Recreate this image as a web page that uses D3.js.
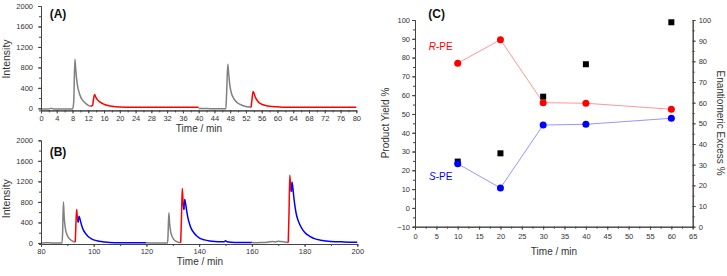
<!DOCTYPE html>
<html lang="en">
<head>
<meta charset="utf-8"/>
<title>HPLC traces and product yield</title>
<script src="https://cdnjs.cloudflare.com/ajax/libs/d3/7.8.5/d3.min.js"></script>
<style>
	body { margin: 0; background: #fff; }
	svg text { font-family: "Liberation Sans", Arial, sans-serif; fill: #333; }
	.axis path, .axis line { stroke: #444; stroke-width: 1; }
	.axis text { font-size: 7.5px; fill: #333; }
</style>
</head>
<body>
<svg id="fig" width="727" height="276"></svg>
<script>
// ---- panel A traces [time, intensity] ----
var aGray1 = [[0,-15],[1,-15],[2,-12],[2.6,0],[3.2,-12],[4,-15],[6,-15],[8,-15],[8.3,120],[8.6,960],[8.8,780],[9.0,600],[9.3,430],[9.7,300],[10.2,200],[11,120],[12,60],[12.6,40]];
var aRed1 = [[12.6,40],[13.1,60],[13.3,170],[13.6,270],[13.9,220],[14.3,170],[15,120],[16,80],[17,55],[18,40],[20,28],[25,22],[30,20],[40,20]];
var aGray2 = [[40,-5],[42,-5],[44,-10],[46,-10],[46.9,-10],[47.1,300],[47.4,860],[47.6,700],[47.9,460],[48.3,300],[49,180],[50,100],[51,60],[52,35],[53,25],[53.3,20]];
var aRed2 = [[53.3,20],[53.5,150],[53.8,330],[54.1,280],[54.5,200],[55,140],[56,80],[57,55],[58,40],[60,30],[62,22],[65,20],[80,20]];

// ---- panel B traces ----
var bGray1 = [[80,0],[82,5],[84,0],[86,0],[88,0],[88.2,200],[88.5,800],[88.8,500],[89.2,300],[89.8,170],[90.5,100],[91.5,50],[92.5,25],[93,20]];
var bRed1 = [[93,20],[93.2,300],[93.5,650],[93.8,500],[94.1,400]];
var bBlue1 = [[94.1,400],[94.4,520],[94.7,480],[95,420],[95.5,330],[96,260],[97,180],[98,120],[99,85],[100,60],[102,35],[104,20],[106,10],[110,5],[120,5]];
var bGray2 = [[120,5],[122,0],[124,0],[126,0],[128,0],[128.2,150],[128.5,590],[128.8,380],[129.2,220],[129.8,120],[130.5,60],[131.5,25],[132.5,10],[133,5]];
var bRed2 = [[133,5],[133.3,500],[133.6,1060],[133.9,800],[134.2,650]];
var bBlue2 = [[134.2,650],[134.5,850],[134.8,780],[135.2,650],[135.7,500],[136.3,380],[137,280],[138,200],[139,140],[140,100],[142,60],[144,40],[146,30],[148,25],[149.5,25],[150,45],[150.6,25],[152,15],[155,10],[160,10]];
var bGray3 = [[160,10],[162,5],[164,10],[166,15],[168,30],[169,20],[170,35],[172,25],[173,15],[173.8,10]];
var bRed3 = [[173.8,10],[174.1,600],[174.4,1320],[174.7,1100],[175,1000]];
var bBlue3 = [[175,1000],[175.2,1190],[175.5,1100],[175.9,900],[176.4,700],[177,530],[178,380],[179,280],[180,210],[182,130],[184,80],[186,55],[188,40],[190,30],[195,20],[200,15]];

// ---- panel C ----
var cTime = [10, 20, 30, 40, 60];
var cRPE = [77.0, 89.5, 56.0, 55.7, 52.5];   // product yield %, R
var cSPE = [23.5, 10.6, 44.1, 44.5, 47.7];   // product yield %, S
var cEE = [31.5, 35.5, 62.9, 78.6, 98.9];    // enantiomeric excess %

var aXTicks = d3.range(0, 81, 4);
var bXTicks = d3.range(80, 201, 20);
var intensityTicks = d3.range(0, 2001, 400);
var cXTicks = d3.range(0, 66, 5);
var cYLTicks = d3.range(-10, 101, 10);
var cYRTicks = d3.range(0, 101, 10);

var svg = d3.select("#fig");
var GRAY = "#808080", RED = "#ff0000", BLUE = "#0000ff";

// axis helper: major ticks with labels + minor ticks without
function addAxis(g, axisFn, scale, major, minor, size, pad, transform) {
	var ga = g.append("g").attr("class", "axis").attr("transform", transform);
	ga.call(axisFn(scale).tickValues(minor).tickSize(2).tickFormat(""));
	ga.append("g").call(axisFn(scale).tickValues(major).tickSize(size).tickPadding(pad).tickSizeOuter(0).tickFormat(d3.format("d")));
	ga.selectAll("path").attr("stroke", "#444");
	return ga;
}

function trace(g, x, y, pts, col) {
	var line = d3.line().x(function(d){ return x(d[0]); }).y(function(d){ return y(d[1]); }).curve(d3.curveMonotoneX);
	g.append("path").datum(pts).attr("d", line).attr("fill", "none").attr("stroke", col).attr("stroke-width", 1.5).attr("stroke-linejoin", "round");
}

// ================= Panel A =================
var xA = d3.scaleLinear().domain([0, 80]).range([41, 356.3]);
var yA = d3.scaleLinear().domain([-40, 2000]).range([110.4, 6]);
var gA = svg.append("g");
[[aGray1, GRAY], [aRed1, RED], [aGray2, GRAY], [aRed2, RED]].forEach(function(s){ trace(gA, xA, yA, s[0], s[1]); });
addAxis(gA, d3.axisBottom, xA, aXTicks, d3.range(0, 81, 2), 3, 2, "translate(0," + yA(-40) + ")");
addAxis(gA, d3.axisLeft, yA, intensityTicks, d3.range(0, 2001, 200), 3, 5, "translate(" + xA(0) + ",0)");
gA.append("text").attr("x", 58).attr("y", 17.5).attr("text-anchor", "middle").attr("font-size", 12).attr("font-weight", "bold").style("fill", "#111").text("(A)");
gA.append("text").attr("x", 199).attr("y", 132).attr("text-anchor", "middle").attr("font-size", 10).text("Time / min");
gA.append("text").attr("transform", "translate(9.5,59) rotate(-90)").attr("text-anchor", "middle").attr("font-size", 10.5).text("Intensity");

// ================= Panel B =================
var xB = d3.scaleLinear().domain([80, 200]).range([41, 357.3]);
var yB = d3.scaleLinear().domain([-20, 2000]).range([244, 140.3]);
var gB = svg.append("g");
[[bGray1, GRAY], [bRed1, RED], [bBlue1, BLUE], [bGray2, GRAY], [bRed2, RED], [bBlue2, BLUE], [bGray3, GRAY], [bRed3, RED], [bBlue3, BLUE]]
	.forEach(function(s){ trace(gB, xB, yB, s[0], s[1]); });
addAxis(gB, d3.axisBottom, xB, bXTicks, d3.range(80, 201, 10), 3, 2, "translate(0," + yB(-20) + ")");
addAxis(gB, d3.axisLeft, yB, intensityTicks, d3.range(0, 2001, 200), 3, 5, "translate(" + xB(80) + ",0)");
gB.append("text").attr("x", 58).attr("y", 155.5).attr("text-anchor", "middle").attr("font-size", 12).attr("font-weight", "bold").style("fill", "#111").text("(B)");
gB.append("text").attr("x", 200).attr("y", 264.5).attr("text-anchor", "middle").attr("font-size", 10).text("Time / min");
gB.append("text").attr("transform", "translate(9.5,198.7) rotate(-90)").attr("text-anchor", "middle").attr("font-size", 10.5).text("Intensity");

// ================= Panel C =================
var xC = d3.scaleLinear().domain([0, 65]).range([415, 692.7]);
var yL = d3.scaleLinear().domain([-10, 100]).range([226.7, 20]);
var yR = d3.scaleLinear().domain([0, 100]).range([226.7, 20]);
var gC = svg.append("g");
addAxis(gC, d3.axisBottom, xC, cXTicks, d3.range(0, 66, 2.5), 3, 4, "translate(0," + yL(-10) + ")");
addAxis(gC, d3.axisLeft, yL, cYLTicks, d3.range(-10, 101, 5), 3, 2, "translate(" + xC(0) + ",0)");
addAxis(gC, d3.axisRight, yR, cYRTicks, d3.range(0, 101, 5), 3, 3, "translate(" + xC(65) + ",0)");

var rows = cTime.map(function(t, i){ return {t: t, r: cRPE[i], s: cSPE[i], ee: cEE[i]}; });
var lineR = d3.line().x(function(d){ return xC(d.t); }).y(function(d){ return yL(d.r); });
var lineS = d3.line().x(function(d){ return xC(d.t); }).y(function(d){ return yL(d.s); });
gC.append("path").datum(rows).attr("d", lineR).attr("fill", "none").attr("stroke", "#ff8a8a").attr("stroke-width", 0.9);
gC.append("path").datum(rows).attr("d", lineS).attr("fill", "none").attr("stroke", "#8a8aff").attr("stroke-width", 0.9);

// ee squares (right axis) under the yield circles
gC.selectAll("rect.ee").data(rows).enter().append("rect").attr("class", "ee")
	.attr("x", function(d){ return xC(d.t) - 3; }).attr("y", function(d){ return yR(d.ee) - 3; })
	.attr("width", 6).attr("height", 6).attr("fill", "#000");
gC.selectAll("circle.r").data(rows).enter().append("circle").attr("class", "r")
	.attr("cx", function(d){ return xC(d.t); }).attr("cy", function(d){ return yL(d.r); }).attr("r", 3.5).attr("fill", RED);
gC.selectAll("circle.s").data(rows).enter().append("circle").attr("class", "s")
	.attr("cx", function(d){ return xC(d.t); }).attr("cy", function(d){ return yL(d.s); }).attr("r", 3.5).attr("fill", BLUE);

gC.append("text").attr("x", 436.7).attr("y", 18).attr("text-anchor", "middle").attr("font-size", 12).attr("font-weight", "bold").style("fill", "#111").text("(C)");
gC.append("text").attr("x", 554).attr("y", 255).attr("text-anchor", "middle").attr("font-size", 10).text("Time / min");
gC.append("text").attr("transform", "translate(388.5,123) rotate(-90)").attr("text-anchor", "middle").attr("font-size", 10).text("Product Yield %");
gC.append("text").attr("transform", "translate(716.5,123) rotate(90)").attr("text-anchor", "middle").attr("font-size", 10).text("Enantiomeric Excess %");

var tR = gC.append("text").attr("x", 440.7).attr("y", 50.2).attr("text-anchor", "middle").attr("font-size", 10).style("fill", RED);
tR.append("tspan").attr("font-style", "italic").style("fill", RED).text("R");
tR.append("tspan").style("fill", RED).text("-PE");
var tS = gC.append("text").attr("x", 440.7).attr("y", 180.2).attr("text-anchor", "middle").attr("font-size", 10).style("fill", BLUE);
tS.append("tspan").attr("font-style", "italic").style("fill", BLUE).text("S");
tS.append("tspan").style("fill", BLUE).text("-PE");
</script>
</body>
</html>
